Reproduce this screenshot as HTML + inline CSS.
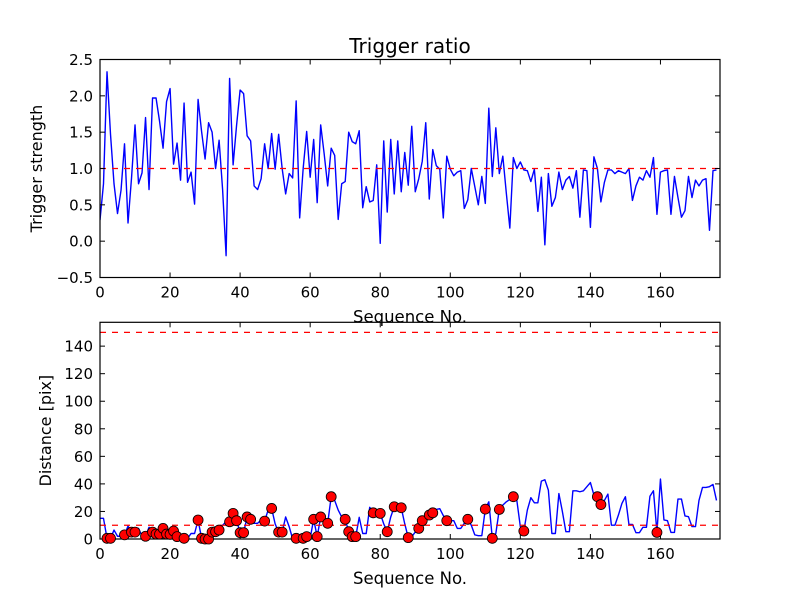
<!DOCTYPE html>
<html><head><meta charset="utf-8"><style>
html,body{margin:0;padding:0;background:#fff;}
svg{display:block;font-family:"DejaVu Sans","Liberation Sans",sans-serif;}
</style></head><body>
<svg id="fig" width="800" height="600" viewBox="0 0 800 600" xmlns="http://www.w3.org/2000/svg">
<rect width="800" height="600" fill="#fff"/>
<g id="top"></g>
<g id="bot"></g>
</svg>
<script>
const ratioValues = [0.29,0.79,2.33,1.47,0.79,0.38,0.7,1.34,0.25,0.87,1.6,0.79,0.94,1.7,0.71,1.97,1.97,1.65,1.28,1.92,2.1,1.06,1.35,0.84,1.9,0.81,0.95,0.51,1.95,1.51,1.13,1.63,1.5,1.0,1.39,0.71,-0.2,2.24,1.05,1.6,2.08,2.03,1.45,1.38,0.76,0.71,0.86,1.34,1.0,1.48,0.99,1.47,1.0,0.65,0.93,0.87,1.93,0.32,1.0,1.51,0.88,1.4,
0.53,1.6,1.2,0.76,1.28,1.18,0.3,0.79,0.82,1.5,1.37,1.34,1.52,0.46,0.75,0.54,0.56,1.05,-0.03,1.38,0.4,1.4,0.65,1.38,0.68,1.22,0.77,1.58,0.68,0.86,1.1,1.63,0.58,1.26,1.04,0.99,0.32,1.17,0.99,0.9,0.95,0.97,0.45,0.57,1.0,0.75,0.5,0.89,0.52,1.83,0.89,1.56,0.93,1.17,0.66,0.18,1.15,1.0,1.09,
0.98,0.97,0.82,0.99,0.41,0.88,-0.05,0.93,0.48,0.6,0.95,0.71,0.84,0.89,0.73,0.97,0.33,0.98,0.97,0.19,1.16,1.0,0.54,0.81,0.98,0.98,0.93,0.97,0.95,0.93,1.0,0.56,0.76,0.88,0.84,0.97,0.88,1.15,0.37,0.95,0.97,0.98,0.37,0.89,0.6,0.33,0.42,0.89,0.6,0.84,0.76,0.84,0.86,0.15,0.97,0.98];
const distValues = [15,15,0.5,0.5,6.5,2,2,3,9.4,5,5,7.7,2,2,8.5,5,3.6,3.6,7.7,3.6,3.4,5.8,1.7,0.5,0.5,0.5,4,4,13.8,0.5,0,0,5,5.3,6.5,10,12.5,12.5,18.6,13.3,4.6,4.6,16,14.3,11.4,11.4,13.8,13,21,22.2,11,5,5,16,9,0,0.5,0.5,0.5,1.7,
0.5,14.3,1.7,16,12.5,11.4,30.7,28,21,16,14.3,5.3,1.7,1.7,15.7,4,4,23,19,19,18.6,11,5.3,16,23.4,23,22.7,11,1,1.7,5,7.7,13.3,15,17.4,19,21.5,22,17,13.3,13.3,13.3,7.7,7.7,11.4,14.3,10,3,2.4,2.4,21.7,27,0.5,4,21.5,24.6,27,28.7,30.7,
28,9,5.8,21,30,26.3,26.3,42,43,35.5,4,4,33,20,5.3,5.3,35,35,34.3,35,38,41,32,30.7,25,28,32.6,10,10,17.4,25.8,30.7,10.6,10.6,4.6,4.6,8.5,8.5,31,35,4.8,43.5,13.8,13.3,4.8,4.8,29,29,16.7,16.2,9,9,28,37.4,37.4,38,39.6,28];
const markerIdx = [2,3,7,9,10,13,15,16,17,18,19,20,21,22,24,28,29,30,31,32,33,34,37,38,39,40,41,42,43,47,49,51,52,56,58,59,61,62,63,65,66,70,71,72,73,78,80,82,84,86,88,91,92,94,95,99,105,110,112,114,118,121,142,143,159];
const xTicks = [0,20,40,60,80,100,120,140,160];
const topYTicks = [-0.5,0.0,0.5,1.0,1.5,2.0,2.5];
const topYLabels = ["\u22120.5","0.0","0.5","1.0","1.5","2.0","2.5"];
const botYTicks = [0,20,40,60,80,100,120,140];
const topThreshold = [1.0];
const botThresholds = [10,150];

const NS="http://www.w3.org/2000/svg";
function mk(parent,tag,attrs){const e=document.createElementNS(NS,tag);for(const k in attrs)e.setAttribute(k,attrs[k]);parent.appendChild(e);return e;}
const XMIN=0,XMAX=177,L=100,R=720;
function xs(v){return L+(v-XMIN)/(XMAX-XMIN)*(R-L);}

function frame(g,top,bottom,ys,yticks,ylabels,ylabelText,prefix){
  const fr=mk(g,'rect',{x:L,y:top,width:R-L,height:bottom-top,fill:'none',stroke:'#000','stroke-width':1.2});
  
  
  xTicks.forEach(t=>{
    const x=xs(t);
    const a=mk(g,'line',{x1:x,x2:x,y1:bottom,y2:bottom-5,stroke:'#000'});
    
    
    mk(g,'line',{x1:x,x2:x,y1:top,y2:top+5,stroke:'#000'});
    const tx=mk(g,'text',{x:x,y:bottom+20,'font-size':15,'text-anchor':'middle',fill:'#000'});
    tx.textContent=t;
    
    
  });
  yticks.forEach((t,i)=>{
    const y=ys(t);
    const a=mk(g,'line',{x1:L,x2:L+5,y1:y,y2:y,stroke:'#000'});
    
    
    mk(g,'line',{x1:R,x2:R-5,y1:y,y2:y,stroke:'#000'});
    const tx=mk(g,'text',{x:L-7,y:y+5.5,'font-size':15,'text-anchor':'end',fill:'#000'});
    tx.textContent=ylabels[i];
    
    
  });
  const cy=(top+bottom)/2;
  const yl=mk(g,'text',{x:0,y:0,'font-size':16,'text-anchor':'middle',fill:'#000',transform:'translate('+(prefix==='top'?42:51)+','+cy+') rotate(-90)'});
  yl.textContent=ylabelText;
  
  
  const xl=mk(g,'text',{x:(L+R)/2,y:bottom+45,'font-size':16.5,'text-anchor':'middle',fill:'#000'});
  xl.textContent='Sequence No.';
  
  
}
function linePath(vals,ys){return vals.map((v,i)=>(i?'L':'M')+xs(i).toFixed(2)+','+ys(v).toFixed(2)).join(' ');}

(function(){
  const g=document.getElementById('top');
  const top=59.5,bottom=277.5,ymin=-0.5,ymax=2.5;
  const ys=v=>bottom-(v-ymin)/(ymax-ymin)*(bottom-top);
  const clip=mk(g,'clipPath',{id:'ct'});mk(clip,'rect',{x:L,y:top,width:R-L,height:bottom-top});
  const pg=mk(g,'g',{'clip-path':'url(#ct)'});
  const p=mk(pg,'path',{d:linePath(ratioValues,ys),fill:'none',stroke:'#0000ff','stroke-width':1.4,'stroke-linejoin':'round'});
  
  
  topThreshold.forEach(t=>{
    const d=mk(pg,'line',{x1:L,x2:R,y1:ys(t),y2:ys(t),stroke:'#ff0000','stroke-width':1.2,'stroke-dasharray':'6,6'});
    
    
  });
  frame(g,top,bottom,ys,topYTicks,topYLabels,'Trigger strength','top');
  const t=mk(g,'text',{x:410,y:53,'font-size':20,'text-anchor':'middle',fill:'#000'});
  t.textContent='Trigger ratio';
  
  
})();

(function(){
  const g=document.getElementById('bot');
  const top=322.3,bottom=539,ymin=0,ymax=157.3;
  const ys=v=>bottom-(v-ymin)/(ymax-ymin)*(bottom-top);
  const clip=mk(g,'clipPath',{id:'cb'});mk(clip,'rect',{x:L,y:top,width:R-L,height:bottom-top});
  const pg=mk(g,'g',{'clip-path':'url(#cb)'});
  const p=mk(pg,'path',{d:linePath(distValues,ys),fill:'none',stroke:'#0000ff','stroke-width':1.4,'stroke-linejoin':'round'});
  
  
  botThresholds.forEach(t=>{
    const d=mk(pg,'line',{x1:L,x2:R,y1:ys(t),y2:ys(t),stroke:'#ff0000','stroke-width':1.2,'stroke-dasharray':'6,6'});
    
    
  });
  frame(g,top,bottom,ys,botYTicks,botYTicks.map(String),'Distance [pix]','bottom');
  markerIdx.forEach(i=>{
    const c=mk(g,'circle',{cx:xs(i),cy:ys(distValues[i]),r:5,fill:'#ff0000',stroke:'#000','stroke-width':0.8});
    
    
  });
})();
</script>
</body></html>
